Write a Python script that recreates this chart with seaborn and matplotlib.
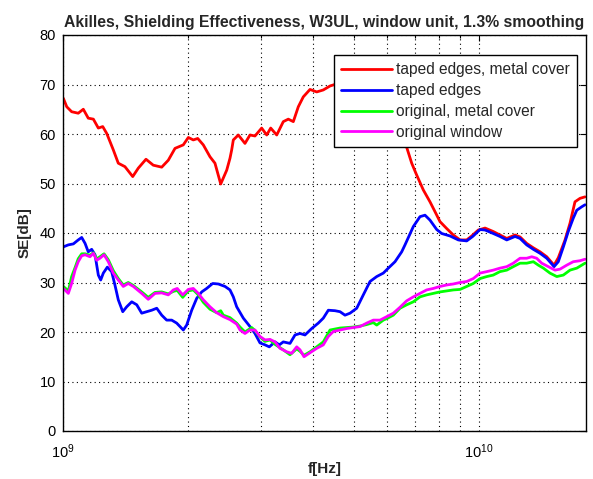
import matplotlib
matplotlib.use("Agg")
import matplotlib.pyplot as plt
import matplotlib.ticker as mticker
import numpy as np
import pandas as pd
import seaborn as sns

# Values: frequency in GHz, SE in dB
red_f = [1.002, 1.021, 1.049, 1.088, 1.119, 1.150, 1.183, 1.216, 1.246, 1.274,
         1.321, 1.358, 1.409, 1.471, 1.517, 1.583, 1.648, 1.727, 1.791, 1.859,
         1.946, 2.001, 2.057, 2.108, 2.174, 2.256, 2.319, 2.394, 2.475, 2.520,
         2.544, 2.567, 2.639, 2.738, 2.815, 2.894, 3.003, 3.088, 3.157, 3.264,
         3.385, 3.480, 3.578, 3.678, 3.781, 3.924, 4.073, 4.224, 4.384, 4.7,
         5.1, 5.5, 5.9, 6.3, 6.6, 6.702, 6.890, 7.083, 7.347, 7.624,
         7.839, 8.058, 8.363, 8.674, 9.002, 9.342, 9.604, 9.961, 10.34, 10.82,
         11.23, 11.66, 12.21, 12.55, 13.02, 13.51, 14.02, 14.55, 15.15, 15.51,
         16.10, 16.55, 17.01, 17.49, 17.98]
red_se = [67.2, 65.5, 64.5, 64.2, 65.0, 63.2, 63.0, 61.2, 61.5, 60.1,
          56.8, 54.1, 53.4, 51.4, 53.1, 54.9, 53.7, 53.3, 54.7, 57.1,
          57.8, 59.3, 58.8, 59.1, 57.8, 55.4, 54.1, 49.9, 52.7, 55.1,
          56.8, 58.8, 59.8, 58.1, 59.8, 59.6, 61.2, 59.8, 61.2, 59.8,
          62.5, 63.0, 62.5, 65.5, 67.5, 69.0, 68.5, 68.9, 69.7, 70.5,
          71.0, 69.5, 67.0, 63.0, 59.0, 57.3, 54.1, 51.7, 48.7, 46.3,
          44.3, 42.3, 40.9, 39.6, 38.6, 38.6, 39.4, 40.6, 41.0, 40.3,
          39.6, 38.9, 39.6, 39.2, 37.9, 37.0, 36.2, 35.2, 33.5, 35.0,
          38.6, 42.0, 46.3, 47.0, 47.3]

blue_f = [1.002, 1.030, 1.059, 1.088, 1.109, 1.130, 1.150, 1.172, 1.194, 1.216,
          1.232, 1.250, 1.278, 1.309, 1.333, 1.358, 1.392, 1.423, 1.463, 1.504,
          1.546, 1.589, 1.634, 1.680, 1.727, 1.775, 1.825, 1.876, 1.911, 1.946,
          1.983, 2.039, 2.096, 2.155, 2.215, 2.290, 2.362, 2.452, 2.520, 2.567,
          2.615, 2.713, 2.815, 2.894, 2.975, 3.059, 3.133, 3.233, 3.311, 3.385,
          3.513, 3.612, 3.713, 3.817, 3.961, 4.109, 4.224, 4.343, 4.507, 4.634,
          4.763, 4.897, 5.082, 5.271, 5.470, 5.677, 5.888, 6.053, 6.282, 6.519,
          6.639, 6.952, 7.213, 7.416, 7.624, 7.913, 8.134, 8.517, 8.918, 9.342,
          9.657, 10.06, 10.34, 10.82, 11.23, 11.66, 12.21, 12.55, 13.02, 13.51,
          14.02, 14.55, 15.15, 15.51, 15.95, 16.39, 16.85, 17.18, 17.66, 17.98]
blue_se = [37.2, 37.6, 37.8, 38.6, 39.1, 37.9, 36.2, 36.7, 35.6, 31.5,
           30.5, 31.9, 33.1, 32.2, 29.5, 26.5, 24.1, 25.1, 26.1, 25.5,
           23.8, 24.1, 24.4, 24.8, 23.4, 22.4, 22.4, 21.8, 21.1, 20.4,
           21.4, 24.4, 26.8, 28.1, 28.8, 29.8, 29.7, 29.2, 28.5, 27.1,
           25.1, 22.8, 21.1, 19.7, 17.8, 17.4, 17.0, 18.0, 17.4, 18.0,
           17.7, 19.4, 19.7, 19.4, 20.7, 21.8, 22.8, 24.4, 24.3, 24.1,
           23.4, 23.8, 24.8, 27.5, 30.2, 31.2, 31.9, 32.9, 34.2, 36.2,
           37.6, 41.3, 43.3, 43.6, 42.6, 40.7, 39.9, 39.4, 38.6, 38.4,
           39.3, 40.7, 40.6, 39.9, 39.3, 38.6, 39.3, 38.9, 37.6, 36.7,
           35.9, 34.9, 33.2, 34.2, 37.2, 40.3, 43.0, 44.6, 45.3, 45.7]

green_f = [1.002, 1.030, 1.049, 1.069, 1.088, 1.109, 1.130, 1.161, 1.183, 1.205,
           1.227, 1.255, 1.285, 1.321, 1.358, 1.396, 1.435, 1.476, 1.546, 1.603,
           1.664, 1.727, 1.791, 1.841, 1.882, 1.940, 2.001, 2.057, 2.115, 2.174,
           2.256, 2.341, 2.394, 2.429, 2.520, 2.615, 2.664, 2.738, 2.842, 2.894,
           2.975, 3.059, 3.145, 3.233, 3.385, 3.513, 3.646, 3.713, 3.796, 3.924,
           4.073, 4.224, 4.384, 4.634, 4.808, 4.987, 5.176, 5.371, 5.571, 5.677,
           5.888, 6.000, 6.223, 6.458, 6.702, 6.952, 7.213, 7.486, 7.765, 8.058,
           8.363, 8.674, 9.002, 9.342, 9.690, 10.06, 10.44, 10.82, 11.23, 11.66,
           12.09, 12.55, 13.02, 13.51, 13.89, 14.28, 14.81, 15.38, 15.95, 16.55,
           17.18, 17.98]
green_se = [29.2, 28.3, 31.2, 33.0, 34.8, 35.8, 35.8, 35.5, 36.0, 34.8,
            35.2, 35.8, 34.6, 32.4, 30.8, 29.5, 30.0, 29.4, 28.1, 27.0,
            28.0, 28.1, 27.7, 28.2, 28.4, 27.0, 28.3, 28.5, 27.5, 26.0,
            24.6, 23.9, 24.3, 23.4, 22.9, 21.8, 21.0, 20.0, 20.9, 20.3,
            19.0, 18.1, 18.4, 17.5, 16.4, 15.4, 16.6, 16.1, 15.3, 16.0,
            17.0, 18.0, 20.4, 20.8, 20.9, 21.0, 21.2, 21.5, 21.9, 21.4,
            22.4, 22.7, 23.4, 24.8, 25.5, 26.1, 27.1, 27.5, 27.8, 28.1,
            28.3, 28.5, 28.6, 29.2, 29.8, 30.8, 31.2, 31.5, 32.2, 32.5,
            33.2, 33.9, 33.9, 34.2, 33.5, 32.9, 31.9, 31.2, 31.5, 32.5,
            32.9, 33.9]

magenta_f = [1.002, 1.030, 1.049, 1.069, 1.088, 1.109, 1.130, 1.161, 1.183, 1.205,
             1.227, 1.255, 1.285, 1.321, 1.358, 1.396, 1.435, 1.476, 1.546, 1.603,
             1.664, 1.727, 1.791, 1.841, 1.882, 1.940, 2.001, 2.057, 2.115, 2.174,
             2.256, 2.341, 2.429, 2.520, 2.615, 2.664, 2.738, 2.815, 2.894, 2.975,
             3.059, 3.145, 3.233, 3.324, 3.450, 3.546, 3.646, 3.713, 3.796, 3.924,
             4.073, 4.224, 4.343, 4.465, 4.634, 4.808, 4.987, 5.176, 5.371, 5.571,
             5.781, 6.000, 6.223, 6.458, 6.702, 6.952, 7.213, 7.486, 7.765, 8.058,
             8.363, 8.674, 9.002, 9.342, 9.690, 10.06, 10.44, 10.82, 11.23, 11.66,
             12.09, 12.55, 13.02, 13.39, 13.76, 14.15, 14.68, 15.23, 15.66, 16.25,
             16.85, 17.49, 17.98]
magenta_se = [28.8, 27.8, 29.8, 32.5, 34.2, 35.4, 35.6, 35.2, 35.9, 34.5,
              34.9, 35.6, 34.2, 31.9, 30.5, 29.2, 29.8, 29.2, 27.8, 26.6,
              27.8, 27.9, 27.5, 28.5, 28.8, 27.5, 28.6, 28.8, 27.8, 26.5,
              25.1, 23.9, 23.1, 22.5, 21.6, 20.4, 19.7, 20.4, 20.4, 19.1,
              18.4, 18.5, 18.0, 16.7, 16.0, 15.7, 17.0, 16.4, 15.0, 15.8,
              16.7, 17.4, 19.1, 20.1, 20.4, 20.7, 20.9, 21.1, 21.8, 22.4,
              22.4, 23.1, 23.8, 25.0, 26.3, 27.1, 27.8, 28.5, 28.8, 29.2,
              29.5, 29.7, 30.0, 30.2, 30.8, 31.9, 32.2, 32.5, 32.9, 33.2,
              33.9, 34.9, 34.9, 35.2, 34.9, 33.9, 33.2, 32.5, 32.7, 33.5,
              34.2, 34.4, 34.7]

labels = ["taped edges, metal cover", "taped edges",
          "original, metal cover", "original window"]
colors = ["#ff0000", "#0000ff", "#00ff00", "#ff00ff"]

series = [(red_f, red_se), (blue_f, blue_se), (green_f, green_se), (magenta_f, magenta_se)]
frames = []
for name, (f, se) in zip(labels, series):
    frames.append(pd.DataFrame({"f": np.array(f) * 1e9, "SE": se, "case": name}))
df = pd.concat(frames, ignore_index=True)

sns.set_theme(style="white")
plt.rcParams["font.family"] = ["Liberation Sans", "DejaVu Sans"]
plt.rcParams["mathtext.fontset"] = "custom"
plt.rcParams["mathtext.rm"] = "Liberation Sans"

fig = plt.figure(figsize=(5.93, 4.79), dpi=100)
ax = fig.add_axes([63 / 593, 48 / 479, 523 / 593, 396 / 479])

sns.lineplot(data=df, x="f", y="SE", hue="case", hue_order=labels,
             palette=dict(zip(labels, colors)), estimator=None, errorbar=None,
             sort=False, linewidth=2.0, ax=ax)

ax.set_xscale("log")
ax.set_xlim(1e9, 1.808e10)
ax.set_ylim(0, 80)
ax.set_yticks(range(0, 81, 10))
ax.xaxis.set_major_locator(mticker.LogLocator(base=10))
ax.xaxis.set_minor_locator(mticker.LogLocator(base=10, subs=np.arange(2, 10)))
ax.xaxis.set_minor_formatter(mticker.NullFormatter())

grid_kw = dict(color="black", linestyle=(0, (1, 3)), linewidth=0.8)
ax.grid(True, which="both", axis="x", **grid_kw)
ax.grid(True, which="major", axis="y", **grid_kw)

ax.tick_params(which="both", direction="in", top=True, right=True,
               colors="black", labelsize=10.5)
ax.tick_params(which="major", length=4, width=0.8)
ax.tick_params(which="minor", length=2, width=0.8)
ax.tick_params(axis="x", which="major", pad=8)
ax.tick_params(axis="y", which="major", pad=5)
for s in ax.spines.values():
    s.set_color("black")
    s.set_linewidth(1.0)

ax.set_title("Akilles, Shielding Effectiveness, W3UL, window unit, 1.3% smoothing",
             fontsize=11.3, fontweight="bold", pad=6)
ax.set_xlabel("f[Hz]", fontsize=11, fontweight="bold", labelpad=1)
ax.set_ylabel("SE[dB]", fontsize=11, fontweight="bold", labelpad=6)

leg = ax.legend(loc="upper right", bbox_to_anchor=(0.983, 0.949), borderaxespad=0,
                fontsize=11.2, frameon=True, fancybox=False, handlelength=3.3,
                labelspacing=0.38, borderpad=0.45, handletextpad=0.25)
leg.get_frame().set_edgecolor("black")
leg.get_frame().set_linewidth(1.0)
leg.get_frame().set_alpha(1)
for line in leg.get_lines():
    line.set_linewidth(2.0)

fig.savefig("out.png", dpi=100)
